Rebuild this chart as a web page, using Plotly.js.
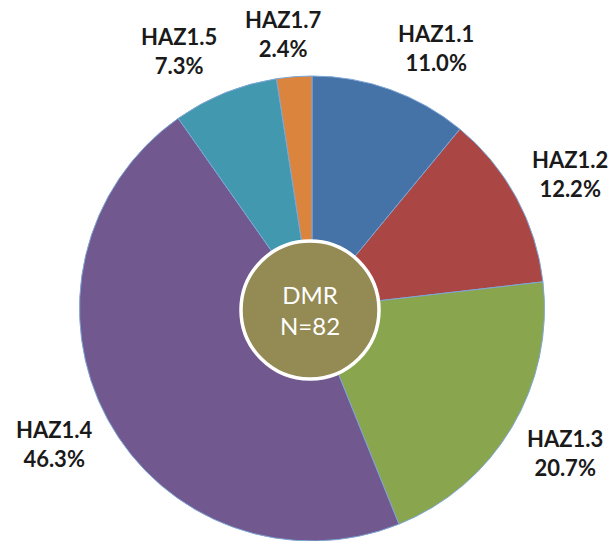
<!DOCTYPE html>
<html>
<head>
<meta charset="utf-8">
<script src="https://cdn.plot.ly/plotly-3.0.1.min.js"></script>
<style>html,body{margin:0;padding:0;background:#fff;}#chart{width:613px;height:541px;}</style>
</head>
<body>
<div id="chart"></div>
<script>
const categories = ["HAZ1.1", "HAZ1.2", "HAZ1.3", "HAZ1.4", "HAZ1.5", "HAZ1.7"];
const counts = [9, 10, 17, 38, 6, 2];
const colors = ["#4572A7", "#AA4643", "#89A54E", "#71588F", "#4198AF", "#DB843D"];
const centerLabel = "DMR";
const total = counts.reduce((a, b) => a + b, 0);

const W = 613, H = 541;
const cx = 312, cy = 309, r = 233;
const labelGap = 15, halfW = 40, halfH = 28;
const fontFam = "Lato, 'Noto Sans', sans-serif";

const trace = {
  type: "pie",
  labels: categories,
  values: counts,
  sort: false,
  direction: "clockwise",
  rotation: 0,
  marker: { colors: colors, line: { color: "#7ea6d6", width: 1 } },
  textinfo: "none",
  hoverinfo: "none",
  showlegend: false,
  automargin: false,
  domain: { x: [(cx - r) / W, (cx + r) / W], y: [(H - cy - r) / H, (H - cy + r) / H] }
};

const clamp = t => Math.max(-1, Math.min(1, t));
// outside labels placed from each slice's mid-angle (clockwise from 12 o'clock)
const labelAnns = [];
let cum = 0;
counts.forEach((v, i) => {
  const mid = (cum + v / 2) / total * 2 * Math.PI;
  cum += v;
  const s = Math.sin(mid), c = Math.cos(mid);
  const px = cx + (r + labelGap) * s + halfW * clamp(3 * s);
  const py = cy - (r + labelGap) * c - halfH * clamp(1.2 * c);
  labelAnns.push({
    xref: "paper", yref: "paper", x: px / W, y: 1 - py / H,
    text: "<b>" + categories[i] + "<br>" + (v / total * 100).toFixed(1) + "%</b>",
    showarrow: false, align: "center",
    xanchor: "center", yanchor: "middle",
    font: { family: fontFam, size: 22, color: "#1a1a1a" }
  });
});

const cr = 69, ccx = 310, ccy = 310;
const layout = {
  width: W, height: H,
  margin: { l: 0, r: 0, t: 0, b: 0 },
  paper_bgcolor: "#ffffff",
  showlegend: false,
  shapes: [{
    type: "circle", xref: "paper", yref: "paper",
    x0: (ccx - cr) / W, x1: (ccx + cr) / W,
    y0: (H - ccy - cr) / H, y1: (H - ccy + cr) / H,
    fillcolor: "#948A54", line: { color: "#ffffff", width: 3.5 }
  }],
  annotations: labelAnns.concat([{
    xref: "paper", yref: "paper", x: ccx / W, y: (H - ccy) / H,
    text: centerLabel + "<br>N=" + total, showarrow: false,
    font: { family: fontFam, size: 24, color: "#ffffff" },
    align: "center", xanchor: "center", yanchor: "middle"
  }])
};

Plotly.newPlot("chart", [trace], layout, { displayModeBar: false, staticPlot: true });
</script>
</body>
</html>
